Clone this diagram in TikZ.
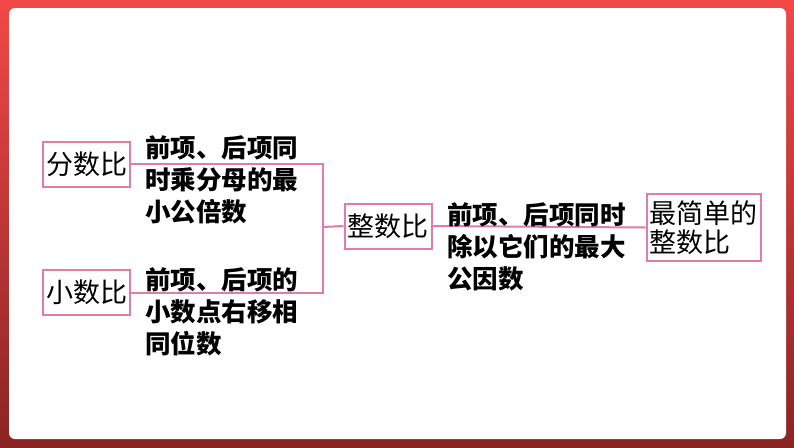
\documentclass[tikz,border=0pt]{standalone}
\usepackage{fontspec}
\newfontfamily\cjk{Noto Sans CJK SC}
\definecolor{garispink}{RGB}{228,122,168}
\definecolor{bingkaiatas}{RGB}{242,72,72}
\definecolor{bingkaibawah}{RGB}{138,36,36}
\tikzset{
	kotak/.style={draw=garispink, line width=2pt, inner xsep=3pt, inner ysep=6pt,
		minimum height=45pt, align=left, font=\cjk\fontsize{27}{29}\selectfont},
	teks/.style={anchor=north west, inner sep=0pt, align=left,
		font=\cjk\bfseries\fontsize{25.5}{32}\selectfont},
	garis/.style={draw=garispink, line width=2pt}
}
\begin{document}
\begin{tikzpicture}[x=1pt,y=-1pt]

% bingkai
\useasboundingbox (0,0) rectangle (794,447);
\shade[top color=bingkaiatas, bottom color=bingkaibawah] (0,0) rectangle (794,447);
\fill[white, rounded corners=6pt] (9,8) rectangle (786,439);

% kotak-kotak
\node[kotak] (fen) at (86.5,164) {分数比};
\node[kotak] (xiao) at (86.5,292.5) {小数比};
\node[kotak] (zheng) at (388,226) {整数比};
\node[kotak] (zui) at (703.5,227.5) {最简单的\\整数比};

% titik cabang
\coordinate (cabang) at (323,227);

% garis penghubung
\draw[garis] (fen.east) -- (fen.east -| cabang) -- (xiao.east -| cabang) -- (xiao.east);
\draw[garis] (cabang) -- (zheng.west);
\draw[garis] (zheng.east) -- (zui.west);

% teks keterangan
\node[teks] (ket1) at (145,135) {前项、后项同\\时乘分母的最\\小公倍数};
\node[teks] (ket2) at (145,267) {前项、后项的\\小数点右移相\\同位数};
\node[teks] (ket3) at (447,202) {前项、后项同时\\除以它们的最大\\公因数};

\end{tikzpicture}
\end{document}
